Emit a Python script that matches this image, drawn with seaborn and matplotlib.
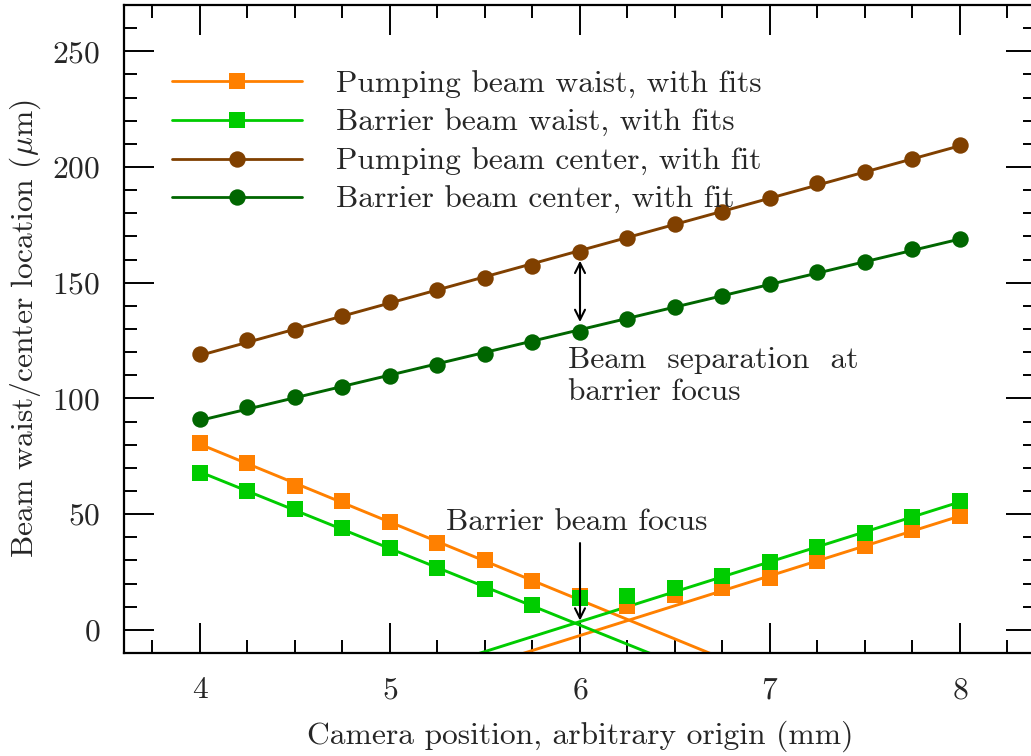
import numpy as np
import matplotlib
matplotlib.use('Agg')
import matplotlib.pyplot as plt
from matplotlib.lines import Line2D
import seaborn as sns

positions = [4.0, 4.25, 4.5, 4.75, 5.0, 5.25, 5.5, 5.75, 6.0,
             6.25, 6.5, 6.75, 7.0, 7.25, 7.5, 7.75, 8.0]
pump_waist = [80.6, 72.0, 62.2, 55.6, 46.5, 37.5, 30.3, 21.3, 14.6,
              10.5, 15.2, 17.9, 22.3, 29.6, 36.1, 43.1, 49.3]
barrier_waist = [67.7, 59.9, 52.2, 44.0, 35.2, 26.6, 17.7, 10.8, 13.6,
                 14.5, 18.1, 23.4, 29.2, 35.8, 41.8, 48.8, 55.7]
pump_center = [119.0, 125.1, 129.7, 135.8, 141.5, 146.7, 151.9, 157.3, 163.1,
               169.3, 175.4, 180.7, 186.8, 192.9, 198.0, 203.4, 209.5]
barrier_center = [90.9, 96.4, 100.7, 105.0, 109.9, 114.5, 119.1, 124.3, 128.9,
                  134.5, 139.5, 144.4, 149.6, 154.5, 158.8, 164.7, 169.0]

labels = ['Pumping beam waist, with fits', 'Barrier beam waist, with fits',
          'Pumping beam center, with fit', 'Barrier beam center, with fit']
colors = ['#ff8000', '#00cc00', '#804000', '#006600']
markers = ['s', 's', 'o', 'o']

sns.set_style('ticks')
plt.rcParams['font.family'] = ['cmr10']
plt.rcParams['mathtext.fontset'] = 'cm'
plt.rcParams['axes.unicode_minus'] = False
plt.rcParams['axes.formatter.use_mathtext'] = True
FS = 22.7

x = np.array(positions)
fig = plt.figure(figsize=(10.31, 7.56), dpi=100)
ax = fig.add_axes([124 / 1031, 103 / 756, 912 / 1031, 648 / 756])

xx = np.array([x.min(), x.max()])
series = [pump_waist, barrier_waist, pump_center, barrier_center]
for i, (vals, col) in enumerate(zip(series, colors)):
    y = np.array(vals)
    if i < 2:
        # V-shaped waist: separate linear fits on each side of the focus
        left = x <= 5.75
        right = x >= 6.75
        for m in (left, right):
            p = np.polyfit(x[m], y[m], 1)
            sns.lineplot(x=xx, y=np.polyval(p, xx), color=col, lw=2.1,
                         sort=False, ax=ax, zorder=2)
    else:
        p = np.polyfit(x, y, 1)
        sns.lineplot(x=xx, y=np.polyval(p, xx), color=col, lw=2.1,
                     sort=False, ax=ax, zorder=2)

for vals, col, mk in zip(series, colors, markers):
    sns.scatterplot(x=x, y=vals, color=col, marker=mk, s=140,
                    linewidth=0, ax=ax, zorder=3)

ax.set_xlim(3.6, 8.4)
ax.set_ylim(-10, 270)
ax.set_xticks([4, 5, 6, 7, 8])
ax.set_xticks(np.arange(3.75, 8.4, 0.25), minor=True)
ax.set_yticks([0, 50, 100, 150, 200, 250])
ax.set_yticks(np.arange(-10, 271, 10), minor=True)
ax.tick_params(which='both', direction='in', top=True, right=True,
               width=1.4, labelsize=FS, color='black')
ax.tick_params(which='major', length=21.6)
ax.tick_params(which='minor', length=9.4)
ax.tick_params(axis='x', which='major', pad=17)
ax.tick_params(axis='y', which='major', pad=17)
for sp in ax.spines.values():
    sp.set_linewidth(1.6)
    sp.set_color('black')

ax.set_xlabel('Camera position, arbitrary origin (mm)', fontsize=FS, labelpad=12)
ax.set_ylabel(r'Beam waist/center location ($\mu$m)', fontsize=FS, labelpad=7)

# annotations
ax.annotate('', xy=(6, 159.5), xytext=(6, 133),
            arrowprops=dict(arrowstyle='<->', color='black', lw=1.5,
                            mutation_scale=18, shrinkA=0, shrinkB=0))
ax.text(5.935, 109.5, 'Beam  separation  at\nbarrier focus', fontsize=FS,
        ha='left', va='center', linespacing=1.2)
ax.annotate('', xy=(6, 4), xytext=(6, 37.5),
            arrowprops=dict(arrowstyle='->', color='black', lw=1.5,
                            mutation_scale=18, shrinkA=0, shrinkB=0))
ax.text(5.985, 46.5, 'Barrier beam focus', fontsize=FS, ha='center', va='center')

handles = [Line2D([0], [0], color=c, lw=2.0, marker=m, markersize=11.8,
                  markeredgewidth=0) for c, m in zip(colors, markers)]
ax.legend(handles, labels, loc='upper left', bbox_to_anchor=(0.053, 0.899),
          frameon=False, fontsize=FS, handlelength=4.1, handletextpad=1.1,
          labelspacing=0.33, borderpad=0, borderaxespad=0)

fig.savefig('out.png', dpi=100)
